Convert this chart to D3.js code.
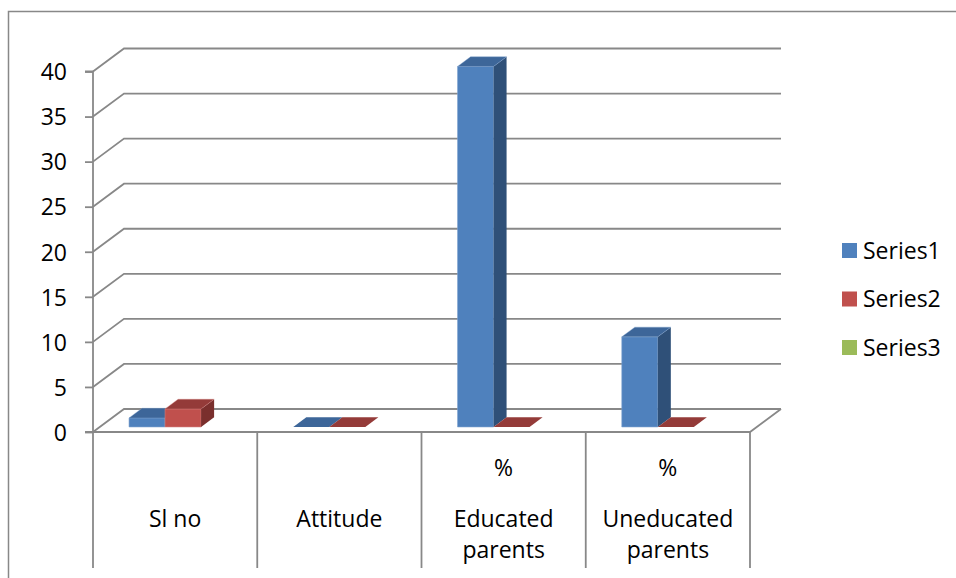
<!DOCTYPE html>
<html>
<head>
<meta charset="utf-8">
<script src="https://cdn.jsdelivr.net/npm/d3@7"></script>
<style>
  html, body { margin: 0; padding: 0; background: #fff; }
  svg { display: block; font-family: "Open Sans", sans-serif; }
</style>
</head>
<body>
<svg id="chart" width="956" height="578"></svg>
<script>
// Category labels (one entry per line of the wrapped label)
const categories = ["Sl no", "Attitude", "% Educated parents", "% Uneducated parents"];
const categoryLines = [["Sl no"], ["Attitude"], ["%", "Educated", "parents"], ["%", "Uneducated", "parents"]];
const seriesNames = ["Series1", "Series2", "Series3"];
const series1 = [1, 0, 40, 10];
const series2 = [2, 0, 0, 0];
const series3 = [null, null, null, null];
const yTicks = [0, 5, 10, 15, 20, 25, 30, 35, 40];

const seriesValues = [series1, series2, series3];
const colors = {
  Series1: { front: "#4f81bd", top: "#3d6699", side: "#2f5078", edge: "#7ea2cf" },
  Series2: { front: "#c0504d", top: "#943b39", side: "#7a2f2d", edge: "#d4807e" },
  Series3: { front: "#9bbb59", top: "#7a9645", side: "#637a37", edge: "#b7cf86" }
};

const FONT_SIZE = 23;
const svg = d3.select("#chart");

// 3D projection: depth z in [0,1] shifts points right and up
const DX = 31, DY = 23;
const proj = (x, y, z) => [x + z * DX, y - z * DY];

const x0 = d3.scaleBand(categories, [93, 750]);
const x1 = d3.scaleBand(seriesNames, [0, x0.bandwidth()]).paddingInner(0).paddingOuter(0.78).align(0.52);
const y = d3.scaleLinear([0, 40], [432, 71.5]);

const gridColor = "#888888";

// Outer chart border
svg.append("path")
  .attr("d", "M8.5,578 V11.5 H956")
  .attr("fill", "none").attr("stroke", gridColor).attr("stroke-width", 1.5);

// Back-wall gridlines with side-wall diagonals
const grid = svg.append("g").attr("fill", "none").attr("stroke", gridColor).attr("stroke-width", 1.8);
yTicks.forEach(t => {
  const a = proj(x0.range()[0], y(t), 0);
  const b = proj(x0.range()[0], y(t), 1);
  const c = proj(x0.range()[1], y(t), 1);
  grid.append("path").attr("d", d3.line()([a, b, c]));
});

// Floor: front edge and right edge
{
  const fl = proj(x0.range()[0], y(0), 0);
  const fr = proj(x0.range()[1], y(0), 0);
  const br = proj(x0.range()[1], y(0), 1);
  grid.append("path").attr("d", d3.line()([fl, fr, br]));
}

// Category divider lines below the floor
const dividers = categories.map(c => x0(c)).concat([x0.range()[1]]);
dividers.forEach(x => {
  grid.append("line").attr("x1", x).attr("x2", x).attr("y1", y(0)).attr("y2", 568);
});

// Value axis
const yAxis = d3.axisLeft(y).tickValues(yTicks).tickSize(8).tickPadding(18);
const axisG = svg.append("g").attr("transform", `translate(${x0.range()[0]},0)`).call(yAxis);
axisG.select(".domain").attr("stroke", gridColor).attr("stroke-width", 1.8).attr("d", `M-8,${y(40)}H0V${y(0)}H-8`);
axisG.selectAll(".tick line").attr("stroke", gridColor).attr("stroke-width", 1.8);
axisG.selectAll(".tick text").attr("font-size", FONT_SIZE).attr("font-family", "Open Sans").attr("fill", "#000").attr("dy", "0.36em");

// Bars
const zf = 0.22, zb = 0.64;
const bars = svg.append("g");
categories.forEach((cat, ci) => {
  seriesNames.forEach((s, si) => {
    const v = seriesValues[si][ci];
    if (v == null) return;
    const col = colors[s];
    const xl = x0(cat) + x1(s), xr = xl + x1.bandwidth();
    const yt = y(v), yb = y(0);
    const poly = pts => "M" + pts.map(p => p.join(",")).join("L") + "Z";
    if (v > 0) {
      bars.append("path").attr("d", poly([proj(xl, yt, zf), proj(xr, yt, zf), proj(xr, yb, zf), proj(xl, yb, zf)]))
        .attr("fill", col.front).attr("stroke", col.edge).attr("stroke-width", 0.6);
      bars.append("path").attr("d", poly([proj(xr, yt, zf), proj(xr, yt, zb), proj(xr, yb, zb), proj(xr, yb, zf)]))
        .attr("fill", col.side);
    }
    bars.append("path").attr("d", poly([proj(xl, yt, zf), proj(xr, yt, zf), proj(xr, yt, zb), proj(xl, yt, zb)]))
      .attr("fill", col.top).attr("stroke", v > 0 ? col.edge : "none").attr("stroke-width", 0.4);
  });
});

// Category labels
const labels = svg.append("g").attr("font-size", FONT_SIZE).attr("fill", "#000").attr("text-anchor", "middle");
categories.forEach((cat, ci) => {
  const cx = x0(cat) + x0.bandwidth() / 2;
  const lines = categoryLines[ci];
  const prefixed = lines.length > 2;
  lines.forEach((ln, li) => {
    let yy;
    if (prefixed) yy = li === 0 ? 476 : 527 + (li - 1) * 30.5;
    else yy = 527 + li * 30.5;
    labels.append("text").attr("x", cx).attr("y", yy).text(ln);
  });
});

// Legend
const legend = svg.append("g").attr("font-size", FONT_SIZE).attr("fill", "#000");
seriesNames.forEach((s, i) => {
  const gy = 243 + i * 48.5;
  legend.append("rect").attr("x", 842).attr("y", gy).attr("width", 15).attr("height", 15).attr("fill", colors[s].front);
  legend.append("text").attr("x", 863).attr("y", gy + 15.5).text(s);
});
</script>
</body>
</html>
